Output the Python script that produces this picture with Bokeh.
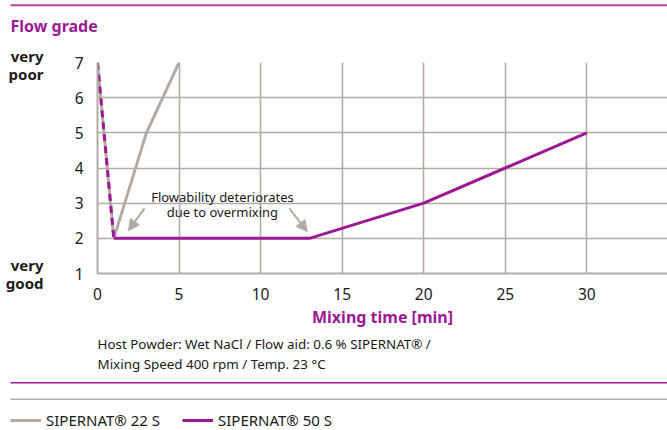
from bokeh.plotting import figure
from bokeh.models import (Range1d, Label, Arrow, NormalHead, BoxAnnotation,
                          Legend, LegendItem, FixedTicker, LinearAxis)
from bokeh.embed import file_html
from bokeh.resources import INLINE

# ---- data ----
time_22s = [0, 1, 3, 5]
grade_22s = [7, 2, 5, 7]
time_50s = [0, 1, 13, 20, 25, 30]
grade_50s = [7, 2, 2, 3, 4, 5]
x_ticks = [0, 5, 10, 15, 20, 25, 30]
y_ticks = [1, 2, 3, 4, 5, 6, 7]
grade_words = {1: "very\ngood", 7: "very\npoor"}
series_names = ["SIPERNAT\u00ae 22 S", "SIPERNAT\u00ae 50 S"]
note_lines = ["Flowability deteriorates", "due to overmixing"]
note_pos = [(7.66, 3.18), (7.66, 2.76)]
arrows = [((2.88, 2.85), (1.9, 2.22)), ((11.76, 2.85), (12.86, 2.19))]
footnote = ["Host Powder: Wet NaCl / Flow aid: 0.6 % SIPERNAT\u00ae /",
            "Mixing Speed 400 rpm / Temp. 23 \u00b0C"]

PURPLE = "#9c1894"
GRID = "#b3aba3"
TXT = "#1a1a1a"
FONT = "Noto Sans"

W = 667
TOP_H = 45
MAIN_H = 288
BOT_H = 430 - TOP_H - MAIN_H
FL, FT, FB = 97, 62, 273          # frame edges in page px
XMAX = (W - FL) / 16.31


def strip(fig):
    fig.axis.visible = False
    fig.grid.visible = False
    fig.outline_line_color = None


# ---------- top strip: rule + title ----------
top = figure(width=W, height=TOP_H, output_backend="svg",
             toolbar_location=None, x_range=Range1d(0, W),
             y_range=Range1d(TOP_H, 0), min_border=0)
strip(top)
top.add_layout(BoxAnnotation(left=10, right=W, top=3.7, bottom=5.7,
                             fill_color="#b5449f", fill_alpha=1,
                             line_color=None))
top.add_layout(Label(x=10, y=25, text="Flow grade", text_font=FONT,
                     text_font_size="16px", text_font_style="bold",
                     text_color=PURPLE, text_baseline="middle"))

# ---------- main chart ----------
p = figure(width=W, height=MAIN_H, output_backend="svg",
           toolbar_location=None,
           x_range=Range1d(0, XMAX), y_range=Range1d(1, 7),
           min_border_left=FL, min_border_right=0,
           min_border_top=FT - TOP_H,
           min_border_bottom=MAIN_H - (FB - TOP_H))
p.outline_line_color = None

for ax in (p.xaxis[0], p.yaxis[0]):
    ax.axis_line_color = GRID
    ax.axis_line_width = 2
    ax.major_tick_line_color = None
    ax.minor_tick_line_color = None
    ax.major_label_text_font = FONT
    ax.major_label_text_font_size = "15.5px"
    ax.major_label_text_color = TXT
p.xaxis.ticker = FixedTicker(ticks=x_ticks)
p.yaxis.ticker = FixedTicker(ticks=y_ticks)
p.xaxis.major_label_standoff = 8
p.yaxis.major_label_standoff = 8
p.xaxis.axis_label = "Mixing time [min]"
p.xaxis.axis_label_text_font = FONT
p.xaxis.axis_label_text_font_size = "16px"
p.xaxis.axis_label_text_font_style = "bold"
p.xaxis.axis_label_text_color = PURPLE
p.xaxis.axis_label_standoff = 3

words = LinearAxis(ticker=FixedTicker(ticks=[1, 7]),
                   major_label_overrides=grade_words,
                   axis_line_color=None, major_tick_line_color=None,
                   minor_tick_line_color=None,
                   major_label_text_font=FONT,
                   major_label_text_font_size="15px",
                   major_label_text_font_style="bold",
                   major_label_text_color=TXT,
                   major_label_text_line_height=0.9,
                   major_label_standoff=22)
p.add_layout(words, "left")

p.xgrid.ticker = FixedTicker(ticks=x_ticks)
p.ygrid.ticker = FixedTicker(ticks=y_ticks)
for g in (p.xgrid[0], p.ygrid[0]):
    g.grid_line_color = GRID
    g.grid_line_width = 1.6

r22 = p.line(time_22s, grade_22s, line_color=GRID, line_width=3)
r50 = p.line(time_50s[1:], grade_50s[1:], line_color=PURPLE, line_width=3)
p.line(time_50s[:2], grade_50s[:2], line_color=PURPLE, line_width=3,
       line_dash="7 5")

for txt, (nx, ny) in zip(note_lines, note_pos):
    p.add_layout(Label(x=nx, y=ny, text=txt, text_font=FONT,
                       text_font_size="13px", text_color=TXT,
                       text_align="center", text_baseline="middle"))
for (s, e) in arrows:
    p.add_layout(Arrow(x_start=s[0], y_start=s[1], x_end=e[0], y_end=e[1],
                       line_color=GRID, line_width=2,
                       end=NormalHead(size=11, fill_color=GRID,
                                      line_color=GRID)))

# ---------- bottom strip: footnote, rules, legend ----------
y0 = TOP_H + MAIN_H
bot = figure(width=W, height=BOT_H, output_backend="svg",
             toolbar_location=None, x_range=Range1d(0, W),
             y_range=Range1d(430, y0), min_border=0)
strip(bot)
for i, line in enumerate(footnote):
    bot.add_layout(Label(x=97, y=343 + 20 * i, text=line, text_font=FONT,
                         text_font_size="13.4px", text_color=TXT,
                         text_baseline="middle"))
bot.add_layout(BoxAnnotation(left=10, right=W, top=381.5, bottom=383,
                             fill_color=PURPLE, fill_alpha=1,
                             line_color=None))
bot.add_layout(BoxAnnotation(left=10, right=W, top=398, bottom=399.6,
                             fill_color=GRID, fill_alpha=1,
                             line_color=None))
# legend swatches: the same series, styled alike (outside this strip's view)
k22 = bot.line(time_22s, grade_22s, line_color=GRID, line_width=3)
k50 = bot.line(time_50s, grade_50s, line_color=PURPLE, line_width=3)
legend = Legend(items=[LegendItem(label=series_names[0], renderers=[k22]),
                       LegendItem(label=series_names[1], renderers=[k50])],
                orientation="horizontal", location=(10, 0.5),
                border_line_color=None, background_fill_alpha=0,
                label_text_font=FONT, label_text_font_size="15px",
                label_text_color=TXT, label_text_baseline="alphabetic",
                glyph_width=31, glyph_height=8, label_height=8,
                label_standoff=5, spacing=22, padding=0, margin=0)
bot.add_layout(legend)

open("out.html", "w").write(file_html([top, p, bot], INLINE))
